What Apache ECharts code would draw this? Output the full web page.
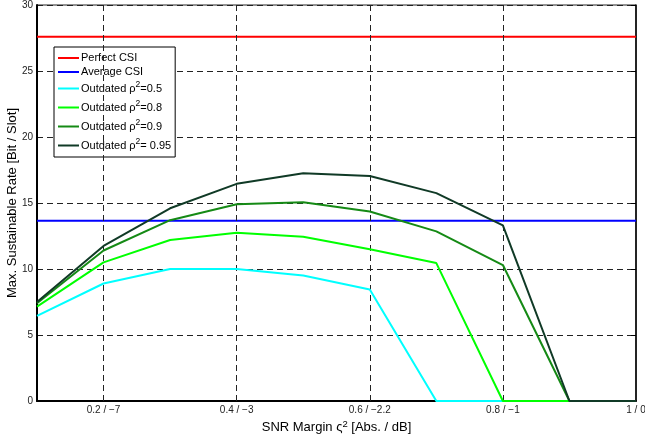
<!DOCTYPE html>
<html>
<head>
<meta charset="utf-8">
<script src="https://cdn.jsdelivr.net/npm/echarts@6/dist/echarts.min.js"></script>
<style>html,body{margin:0;padding:0;background:#fff}#c{width:645px;height:438px}</style>
</head>
<body>
<div id="c"></div>
<script>
const xValues = [0.1, 0.2, 0.3, 0.4, 0.5, 0.6, 0.7, 0.8, 0.9, 1.0];
const xTickValues = [0.2, 0.4, 0.6, 0.8, 1.0];
const xTickLabels = ['0.2 / \u22127', '0.4 / \u22123', '0.6 / \u22122.2', '0.8 / \u22121', '1 / 0'];
const perfectCSI = 27.6;
const averageCSI = 13.65;
const outdated05 = [6.45, 8.9, 10.0, 10.0, 9.5, 8.45, 0, 0, 0, 0];
const outdated08 = [7.15, 10.5, 12.2, 12.75, 12.45, 11.5, 10.45, 0, 0, 0];
const outdated09 = [7.4, 11.4, 13.7, 14.9, 15.05, 14.35, 12.85, 10.3, 0, 0];
const outdated095 = [7.5, 11.75, 14.6, 16.45, 17.25, 17.05, 15.75, 13.3, 0, 0];
const seriesNames = ['Perfect CSI', 'Average CSI', 'Outdated \u03c1^2=0.5', 'Outdated \u03c1^2=0.8', 'Outdated \u03c1^2=0.9', 'Outdated \u03c1^2= 0.95'];
const seriesColors = ['#ff0000', '#0000ff', '#00ffff', '#00ff00', '#158a15', '#103a26'];

const pairs = arr => xValues.map((x, i) => [x, arr[i]]);
const constPairs = v => xValues.map(x => [x, v]);
const dataSets = [constPairs(perfectCSI), constPairs(averageCSI), pairs(outdated05), pairs(outdated08), pairs(outdated09), pairs(outdated095)];

const font = 'Liberation Sans, Arial, Helvetica, sans-serif';

const series = seriesNames.map((name, i) => ({
  name: name,
  type: 'line',
  data: dataSets[i],
  symbol: 'none',
  lineStyle: { color: seriesColors[i], width: 2 },
  itemStyle: { color: seriesColors[i] },
  z: 3 + i
}));
series.push({
  type: 'line',
  data: [],
  silent: true,
  z: 1,
  markLine: {
    silent: true,
    symbol: 'none',
    label: { show: false },
    lineStyle: { color: '#222', type: [6, 4], width: 1 },
    data: xTickValues.slice(0, 4).map(v => ({ xAxis: v }))
  }
});

const chart = echarts.init(document.getElementById('c'), null, { renderer: 'canvas' });
chart.setOption({
  animation: false,
  backgroundColor: '#fff',
  grid: { left: 37, right: 9, top: 5, bottom: 37, outerBoundsMode: 'none', containLabel: false, show: true, borderColor: '#222', borderWidth: 1 },
  legend: {
    orient: 'vertical',
    left: 54,
    top: 47,
    padding: [5, 4, 3, 4],
    itemGap: 2,
    itemWidth: 21,
    itemHeight: 2,
    icon: 'rect',
    backgroundColor: '#fff',
    borderColor: '#000',
    borderWidth: 1,
    borderRadius: 0,
    data: seriesNames,
    formatter: function (n) {
      if (n.indexOf('^2') >= 0) {
        const parts = n.split('^2');
        return '{m|' + parts[0] + '}{sup|2}{m|' + parts[1] + '}';
      }
      return '{n|' + n + '}';
    },
    textStyle: {
      fontFamily: font, fontSize: 11, color: '#000', padding: [0, 0, 0, -3],
      rich: {
        n: { fontFamily: font, fontSize: 11, color: '#000', lineHeight: 12, height: 12 },
        m: { fontFamily: font, fontSize: 11, color: '#000', lineHeight: 17, height: 17, verticalAlign: 'middle' },
        sup: { fontFamily: font, fontSize: 8.5, color: '#000', lineHeight: 17, verticalAlign: 'top' }
      }
    }
  },
  xAxis: {
    type: 'value',
    min: 0.1,
    max: 1.0,
    interval: 0.1,
    name: 'SNR Margin \u03c2{sup|2} [Abs. / dB]',
    nameLocation: 'middle',
    nameGap: 18,
    nameMoveOverlap: false,
    nameTextStyle: {
      fontFamily: font, fontSize: 13, color: '#000', lineHeight: 16,
      rich: {
        sup: { fontFamily: font, fontSize: 9.5, color: '#000', verticalAlign: 'top', lineHeight: 16 }
      }
    },
    axisLine: { show: true, onZero: false, lineStyle: { color: '#000', width: 2 } },
    axisTick: { show: false },
    splitLine: { show: false },
    axisLabel: {
      margin: 4,
      fontFamily: font,
      fontSize: 10,
      color: '#222',
      showMinLabel: false,
      formatter: function (v) {
        for (let i = 0; i < xTickValues.length; i++) {
          if (Math.abs(v - xTickValues[i]) < 1e-6) return xTickLabels[i];
        }
        return '';
      }
    }
  },
  yAxis: [{
    type: 'value',
    min: 0,
    max: 30,
    interval: 5,
    name: 'Max. Sustainable Rate [Bit / Slot]',
    nameLocation: 'middle',
    nameGap: 18,
    nameMoveOverlap: false,
    nameTextStyle: { fontFamily: font, fontSize: 13, color: '#000' },
    axisLine: { show: true, lineStyle: { color: '#000', width: 2 } },
    axisTick: { show: false },
    axisLabel: { margin: 4, fontFamily: font, fontSize: 10, color: '#222' },
    splitLine: { show: true, lineStyle: { color: '#222', type: [6, 4], width: 1 } }
  }, {
    type: 'value',
    position: 'right',
    min: 0,
    max: 30,
    interval: 5,
    axisLine: { show: true, lineStyle: { color: '#000', width: 1.5 } },
    axisTick: { show: true, inside: true, length: 5, lineStyle: { color: '#000' } },
    axisLabel: { show: false },
    splitLine: { show: false }
  }],
  series: series
});
</script>
</body>
</html>
